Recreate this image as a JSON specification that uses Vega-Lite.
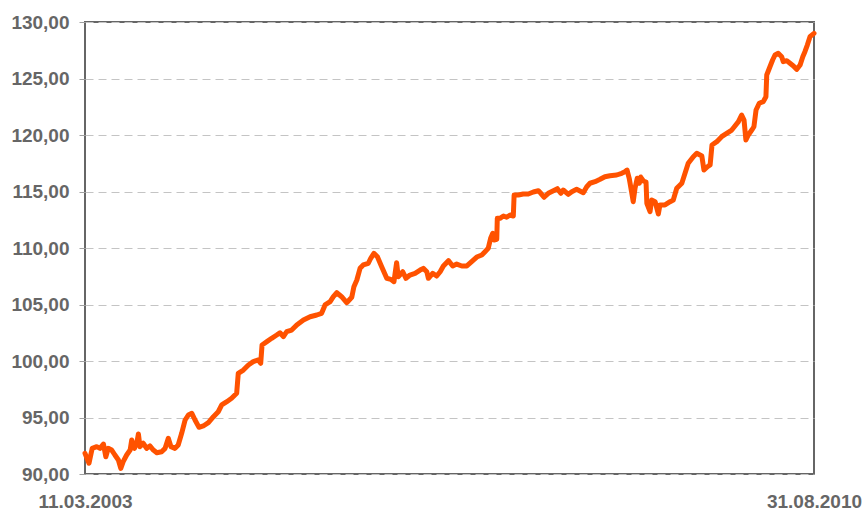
{
  "$schema": "https://vega.github.io/schema/vega-lite/v6.json",
  "width": 729,
  "height": 452,
  "autosize": {"type": "none"},
  "padding": {"left": 85, "top": 22, "right": 49, "bottom": 36},
  "background": "white",
  "config": {
    "view": {"stroke": "#666666", "strokeWidth": 2},
    "font": "Liberation Sans"
  },
  "data": {
    "values": [
      {"date": "2003-03-11", "value": 91.83},
      {"date": "2003-03-26", "value": 90.95},
      {"date": "2003-04-07", "value": 92.27},
      {"date": "2003-04-24", "value": 92.42},
      {"date": "2003-05-06", "value": 92.27},
      {"date": "2003-05-19", "value": 92.65},
      {"date": "2003-05-28", "value": 91.53},
      {"date": "2003-06-06", "value": 92.27},
      {"date": "2003-06-19", "value": 92.12},
      {"date": "2003-07-01", "value": 91.68},
      {"date": "2003-07-14", "value": 91.24},
      {"date": "2003-07-23", "value": 90.5},
      {"date": "2003-08-01", "value": 91.09},
      {"date": "2003-08-14", "value": 91.68},
      {"date": "2003-08-27", "value": 92.12},
      {"date": "2003-09-02", "value": 93.01},
      {"date": "2003-09-12", "value": 92.27},
      {"date": "2003-09-21", "value": 92.72},
      {"date": "2003-09-27", "value": 93.54},
      {"date": "2003-10-03", "value": 92.42},
      {"date": "2003-10-15", "value": 92.72},
      {"date": "2003-10-28", "value": 92.27},
      {"date": "2003-11-09", "value": 92.48},
      {"date": "2003-11-22", "value": 92.12},
      {"date": "2003-12-05", "value": 91.88},
      {"date": "2003-12-23", "value": 91.97},
      {"date": "2004-01-05", "value": 92.27},
      {"date": "2004-01-17", "value": 93.16},
      {"date": "2004-01-27", "value": 92.42},
      {"date": "2004-02-11", "value": 92.27},
      {"date": "2004-02-23", "value": 92.57},
      {"date": "2004-03-07", "value": 93.6},
      {"date": "2004-03-20", "value": 94.78},
      {"date": "2004-04-01", "value": 95.22},
      {"date": "2004-04-14", "value": 95.37},
      {"date": "2004-04-26", "value": 94.78},
      {"date": "2004-05-11", "value": 94.13},
      {"date": "2004-05-27", "value": 94.25},
      {"date": "2004-06-15", "value": 94.54},
      {"date": "2004-07-04", "value": 95.07},
      {"date": "2004-07-22", "value": 95.51},
      {"date": "2004-08-04", "value": 96.11},
      {"date": "2004-08-23", "value": 96.4},
      {"date": "2004-09-10", "value": 96.7},
      {"date": "2004-09-29", "value": 97.14},
      {"date": "2004-10-05", "value": 98.91},
      {"date": "2004-10-24", "value": 99.2},
      {"date": "2004-11-12", "value": 99.65},
      {"date": "2004-11-30", "value": 99.94},
      {"date": "2004-12-19", "value": 100.09},
      {"date": "2004-12-28", "value": 99.8},
      {"date": "2005-01-02", "value": 101.42},
      {"date": "2005-01-20", "value": 101.71},
      {"date": "2005-02-07", "value": 102.01},
      {"date": "2005-02-26", "value": 102.3},
      {"date": "2005-03-10", "value": 102.5},
      {"date": "2005-03-23", "value": 102.15},
      {"date": "2005-04-04", "value": 102.59},
      {"date": "2005-04-23", "value": 102.74},
      {"date": "2005-05-12", "value": 103.19},
      {"date": "2005-06-06", "value": 103.63},
      {"date": "2005-07-01", "value": 103.92},
      {"date": "2005-07-26", "value": 104.07},
      {"date": "2005-08-13", "value": 104.22},
      {"date": "2005-08-26", "value": 104.96},
      {"date": "2005-09-14", "value": 105.25},
      {"date": "2005-09-26", "value": 105.69},
      {"date": "2005-10-09", "value": 106.04},
      {"date": "2005-10-27", "value": 105.69},
      {"date": "2005-11-15", "value": 105.16},
      {"date": "2005-12-04", "value": 105.64},
      {"date": "2005-12-12", "value": 106.58},
      {"date": "2005-12-23", "value": 107.17},
      {"date": "2006-01-04", "value": 108.2},
      {"date": "2006-01-16", "value": 108.5},
      {"date": "2006-02-04", "value": 108.65},
      {"date": "2006-02-13", "value": 109.09},
      {"date": "2006-02-25", "value": 109.53},
      {"date": "2006-03-10", "value": 109.23},
      {"date": "2006-03-26", "value": 108.35},
      {"date": "2006-04-14", "value": 107.32},
      {"date": "2006-04-29", "value": 107.23},
      {"date": "2006-05-11", "value": 107.02},
      {"date": "2006-05-21", "value": 108.7},
      {"date": "2006-05-27", "value": 107.46},
      {"date": "2006-06-13", "value": 107.9},
      {"date": "2006-06-25", "value": 107.32},
      {"date": "2006-07-10", "value": 107.61},
      {"date": "2006-07-29", "value": 107.76},
      {"date": "2006-08-17", "value": 108.05},
      {"date": "2006-08-29", "value": 108.2},
      {"date": "2006-09-11", "value": 107.9},
      {"date": "2006-09-17", "value": 107.32},
      {"date": "2006-10-03", "value": 107.76},
      {"date": "2006-10-18", "value": 107.52},
      {"date": "2006-10-31", "value": 107.9},
      {"date": "2006-11-12", "value": 108.41},
      {"date": "2006-12-01", "value": 108.88},
      {"date": "2006-12-17", "value": 108.41},
      {"date": "2007-01-01", "value": 108.58},
      {"date": "2007-01-20", "value": 108.41},
      {"date": "2007-02-08", "value": 108.41},
      {"date": "2007-02-26", "value": 108.79},
      {"date": "2007-03-17", "value": 109.2},
      {"date": "2007-04-05", "value": 109.38},
      {"date": "2007-04-17", "value": 109.67},
      {"date": "2007-04-29", "value": 109.97},
      {"date": "2007-05-08", "value": 110.86},
      {"date": "2007-05-16", "value": 111.3},
      {"date": "2007-05-21", "value": 110.71},
      {"date": "2007-05-31", "value": 110.77},
      {"date": "2007-06-02", "value": 112.63},
      {"date": "2007-06-12", "value": 112.63},
      {"date": "2007-06-25", "value": 112.83},
      {"date": "2007-07-07", "value": 112.72},
      {"date": "2007-07-20", "value": 112.92},
      {"date": "2007-08-01", "value": 112.83},
      {"date": "2007-08-04", "value": 114.69},
      {"date": "2007-08-20", "value": 114.69},
      {"date": "2007-09-07", "value": 114.78},
      {"date": "2007-09-26", "value": 114.78},
      {"date": "2007-10-15", "value": 114.96},
      {"date": "2007-11-03", "value": 115.07},
      {"date": "2007-11-12", "value": 114.84},
      {"date": "2007-11-24", "value": 114.49},
      {"date": "2007-12-10", "value": 114.84},
      {"date": "2007-12-29", "value": 115.07},
      {"date": "2008-01-13", "value": 115.25},
      {"date": "2008-01-26", "value": 114.84},
      {"date": "2008-02-04", "value": 115.13},
      {"date": "2008-02-23", "value": 114.75},
      {"date": "2008-03-07", "value": 114.98},
      {"date": "2008-03-25", "value": 115.19},
      {"date": "2008-04-19", "value": 114.89},
      {"date": "2008-05-02", "value": 115.42},
      {"date": "2008-05-14", "value": 115.73},
      {"date": "2008-06-02", "value": 115.87},
      {"date": "2008-06-21", "value": 116.08},
      {"date": "2008-07-09", "value": 116.31},
      {"date": "2008-07-28", "value": 116.4},
      {"date": "2008-08-22", "value": 116.46},
      {"date": "2008-09-10", "value": 116.61},
      {"date": "2008-09-22", "value": 116.75},
      {"date": "2008-09-30", "value": 116.9},
      {"date": "2008-10-08", "value": 116.17},
      {"date": "2008-10-17", "value": 114.96},
      {"date": "2008-10-23", "value": 114.1},
      {"date": "2008-10-30", "value": 115.31},
      {"date": "2008-11-07", "value": 116.17},
      {"date": "2008-11-15", "value": 115.73},
      {"date": "2008-11-20", "value": 116.28},
      {"date": "2008-11-30", "value": 115.93},
      {"date": "2008-12-10", "value": 115.84},
      {"date": "2008-12-13", "value": 113.96},
      {"date": "2008-12-25", "value": 113.21},
      {"date": "2008-12-31", "value": 114.25},
      {"date": "2009-01-13", "value": 114.1},
      {"date": "2009-01-25", "value": 113.01},
      {"date": "2009-01-31", "value": 113.81},
      {"date": "2009-02-19", "value": 113.81},
      {"date": "2009-03-10", "value": 114.1},
      {"date": "2009-03-22", "value": 114.25},
      {"date": "2009-04-04", "value": 115.28},
      {"date": "2009-04-23", "value": 115.73},
      {"date": "2009-05-05", "value": 116.61},
      {"date": "2009-05-17", "value": 117.5},
      {"date": "2009-06-05", "value": 118.08},
      {"date": "2009-06-18", "value": 118.38},
      {"date": "2009-07-07", "value": 118.14},
      {"date": "2009-07-15", "value": 116.9},
      {"date": "2009-07-28", "value": 117.19},
      {"date": "2009-08-07", "value": 117.35},
      {"date": "2009-08-14", "value": 119.12},
      {"date": "2009-09-01", "value": 119.41},
      {"date": "2009-09-19", "value": 119.85},
      {"date": "2009-10-08", "value": 120.15},
      {"date": "2009-10-27", "value": 120.44},
      {"date": "2009-11-08", "value": 120.8},
      {"date": "2009-11-21", "value": 121.18},
      {"date": "2009-12-03", "value": 121.77},
      {"date": "2009-12-12", "value": 121.33},
      {"date": "2009-12-19", "value": 119.56},
      {"date": "2009-12-28", "value": 120.0},
      {"date": "2010-01-10", "value": 120.44},
      {"date": "2010-01-18", "value": 120.73},
      {"date": "2010-01-26", "value": 122.21},
      {"date": "2010-02-07", "value": 122.81},
      {"date": "2010-02-22", "value": 122.95},
      {"date": "2010-03-04", "value": 123.39},
      {"date": "2010-03-07", "value": 125.31},
      {"date": "2010-03-19", "value": 126.04},
      {"date": "2010-03-29", "value": 126.64},
      {"date": "2010-04-07", "value": 127.08},
      {"date": "2010-04-19", "value": 127.23},
      {"date": "2010-05-02", "value": 126.93},
      {"date": "2010-05-08", "value": 126.49},
      {"date": "2010-05-21", "value": 126.58},
      {"date": "2010-06-02", "value": 126.35},
      {"date": "2010-06-15", "value": 126.11},
      {"date": "2010-06-27", "value": 125.81},
      {"date": "2010-07-10", "value": 126.19},
      {"date": "2010-07-20", "value": 126.93},
      {"date": "2010-07-28", "value": 127.37},
      {"date": "2010-08-06", "value": 127.96},
      {"date": "2010-08-16", "value": 128.7},
      {"date": "2010-08-31", "value": 129.0}
    ]
  },
  "mark": {"type": "line", "color": "#ff5200", "strokeWidth": 5, "strokeJoin": "round", "strokeCap": "round"},
  "encoding": {
    "x": {
      "field": "date",
      "type": "temporal",
      "scale": {
        "type": "utc",
        "domain": [
          {"year": 2003, "month": 3, "date": 11, "utc": true},
          {"year": 2010, "month": 8, "date": 31, "utc": true}
        ]
      },
      "axis": {
        "title": null,
        "values": [
          {"year": 2003, "month": 3, "date": 11, "utc": true},
          {"year": 2010, "month": 8, "date": 31, "utc": true}
        ],
        "format": "%d.%m.%Y",
        "ticks": false,
        "tickSize": 0,
        "grid": false,
        "domain": false,
        "labelPadding": 18,
        "labelAlign": "center",
        "labelFlush": false,
        "labelOverlap": false,
        "labelBound": false,
        "labelFont": "Liberation Sans",
        "labelFontSize": 19,
        "labelFontWeight": "bold",
        "labelColor": "#666666"
      }
    },
    "y": {
      "field": "value",
      "type": "quantitative",
      "scale": {"domain": [90, 130], "nice": false, "zero": false},
      "axis": {
        "title": null,
        "values": [90, 95, 100, 105, 110, 115, 120, 125, 130],
        "labelExpr": "replace(format(datum.value, '.2f'), '.', ',')",
        "domain": false,
        "ticks": true,
        "tickSize": 6,
        "tickColor": "#a0a0a0",
        "tickWidth": 1,
        "grid": true,
        "gridColor": "#c4c4c4",
        "gridDash": [8, 5],
        "gridWidth": 1,
        "labelPadding": 10,
        "labelFont": "Liberation Sans",
        "labelFontSize": 19,
        "labelFontWeight": "bold",
        "labelColor": "#666666",
        "labelOverlap": false,
        "labelBound": false
      }
    }
  }
}
